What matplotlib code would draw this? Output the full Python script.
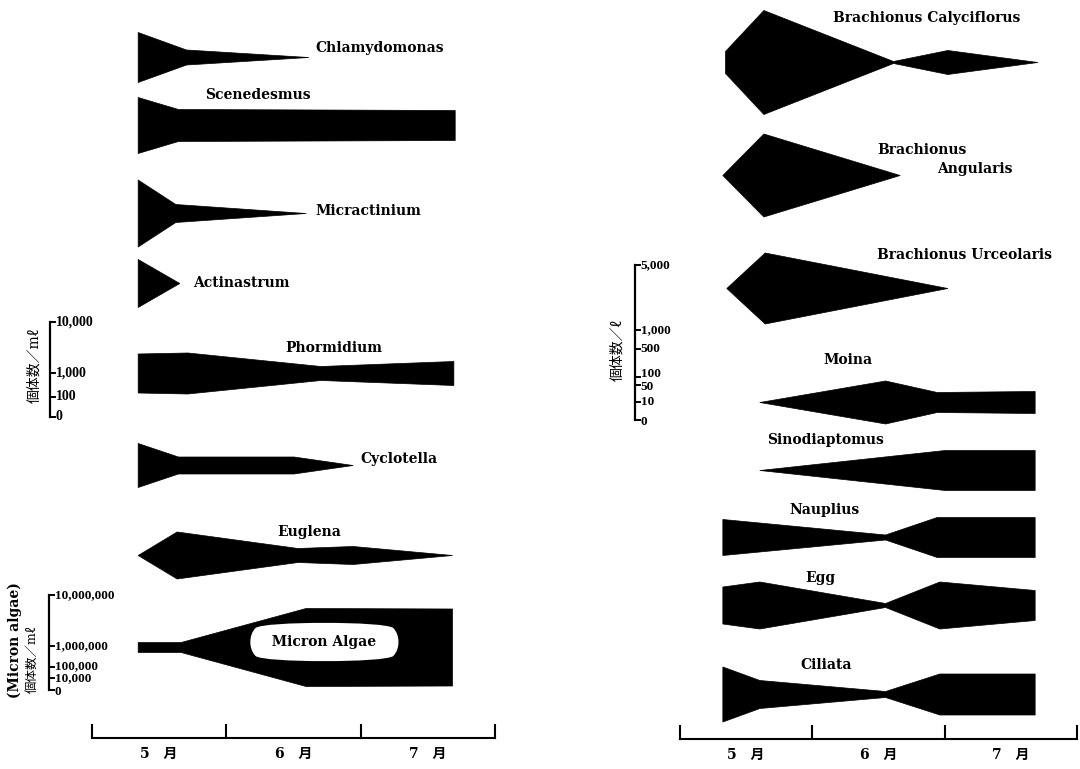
import numpy as np
import matplotlib.pyplot as plt

plt.rcParams['font.family'] = ['DejaVu Serif', 'Noto Sans CJK JP']

# sampling date (month as float) and kite width (scale units, 0 -> 10,000 = 95)
chlamy_t = [5.34, 5.70, 6.61]
chlamy_w = [50, 15, 0]
scene_t = [5.34, 5.64, 7.70]
scene_w = [56, 32, 30]
micract_t = [5.34, 5.62, 6.59]
micract_w = [67, 18, 0]
actin_t = [5.34, 5.65]
actin_w = [48, 0]
phorm_t = [5.34, 5.71, 6.70, 7.69]
phorm_w = [39, 41, 14, 24]
cyclo_t = [5.34, 5.64, 6.50, 6.94]
cyclo_w = [44, 17, 17, 0]
eugl_t = [5.34, 5.63, 6.53, 6.94, 7.68]
eugl_w = [0, 47, 14, 18, 0]
micron_t = [5.34, 5.66, 6.59, 7.68]
micron_w = [10, 10, 78, 77]

# right panel: zooplankton (scale 0 -> 5,000 = 155)
calyc_t = [5.34, 5.34, 5.63, 6.61, 7.02, 7.70]
calyc_w = [0, 22, 104, 2, 24, 0]
angul_t = [5.32, 5.63, 6.66]
angul_w = [0, 83, 0]
urceo_t = [5.35, 5.64, 7.02]
urceo_w = [0, 71, 0]
moina_t = [5.60, 6.55, 6.94, 7.68]
moina_w = [0, 43, 20, 22]
sino_t = [5.60, 7.00, 7.68]
sino_w = [0, 40, 40]
naup_t = [5.32, 6.55, 6.94, 7.68]
naup_w = [36, 5, 40, 40]
egg_t = [5.32, 5.60, 6.55, 6.96, 7.68]
egg_w = [37, 47, 4, 47, 30]
cilia_t = [5.32, 5.60, 6.55, 6.96, 7.68]
cilia_w = [55, 28, 6, 41, 41]

scale1_labels = ['0', '100', '1,000', '10,000']
scale1_w = [0, 20, 44, 95]
scale2_labels = ['0', '10,000', '100,000', '1,000,000', '10,000,000']
scale2_w = [0, 12, 23, 44, 95]
scale3_labels = ['0', '10', '50', '100', '500', '1,000', '5,000']
scale3_w = [0, 18, 35, 43, 71, 90, 155]

months = [5, 6, 7, 8]
month_labels = ['5　月', '6　月', '7　月']

fig = plt.figure(figsize=(10.8, 7.69), dpi=100)
axL = fig.add_axes([0, 0, 0.5, 1])
axR = fig.add_axes([0.5, 0, 0.5, 1])
axL.set_xlim(4.3151, 8.3350)
axR.set_xlim(3.942, 8.0227)
for ax in (axL, axR):
    ax.set_ylim(769, 0)
    ax.axis('off')


def kite(ax, t, w, yc):
    w = np.asarray(w, dtype=float)
    ax.fill_between(t, yc - w / 2, yc + w / 2, color='black', lw=0.5, ec='black')


def scale_bar(ax, x, ybot, widths, labels, tick, nudge=None, fs=10):
    if nudge is None:
        nudge = [0] * len(widths)
    ax.plot([x, x], [ybot, ybot - max(widths)], color='black', lw=1.6)
    for w, lab, dy in zip(widths, labels, nudge):
        ax.plot([x, x + tick], [ybot - w, ybot - w], color='black', lw=1.4)
        ax.text(x + tick * 1.1, ybot - w + dy, lab, fontsize=fs, ha='left', va='center',
                family='Liberation Serif', fontweight='bold')


def time_axis(ax, y):
    ax.plot([months[0], months[-1]], [y, y], color='black', lw=1.5)
    for m in months:
        ax.plot([m, m], [y, y - 13], color='black', lw=1.5)
    for m, lab in zip(months[:-1], month_labels):
        ax.text(m + 0.5, y + 16, lab, fontsize=10, ha='center', va='center',
                fontweight='bold')


lbl = dict(fontsize=10, fontweight='bold', va='center', ha='left')

# phytoplankton
kite(axL, chlamy_t, chlamy_w, 57)
axL.text(6.66, 48, 'Chlamydomonas', **lbl)
kite(axL, scene_t, scene_w, 125)
axL.text(5.84, 95, 'Scenedesmus', **lbl)
kite(axL, micract_t, micract_w, 213)
axL.text(6.66, 211, 'Micractinium', **lbl)
kite(axL, actin_t, actin_w, 283)
axL.text(5.75, 283, 'Actinastrum', **lbl)
kite(axL, phorm_t, phorm_w, 373)
axL.text(6.44, 348, 'Phormidium', **lbl)
kite(axL, cyclo_t, cyclo_w, 465)
axL.text(7.00, 459, 'Cyclotella', **lbl)
kite(axL, eugl_t, eugl_w, 555)
axL.text(6.38, 532, 'Euglena', **lbl)
kite(axL, micron_t, micron_w, 647)
axL.text(6.73, 642, '  Micron Algae  ', fontsize=10, fontweight='bold',
         ha='center', va='center',
         bbox=dict(boxstyle='round4,pad=1.0', fc='white', ec='none'))

scale_bar(axL, 4.687, 417, scale1_w, scale1_labels, 0.04)
axL.text(4.573, 365, '個体数／mℓ', rotation=90, fontsize=10, ha='center', va='center')
scale_bar(axL, 4.680, 690, scale2_w, scale2_labels, 0.04,
          nudge=[2, 0, -1, 0, 0], fs=9.5)
axL.text(4.425, 640, '(Micron algae)', rotation=90, fontsize=10, fontweight='bold',
         ha='center', va='center')
axL.text(4.559, 659, '個体数／mℓ', rotation=90, fontsize=9, ha='center', va='center')
time_axis(axL, 738)

# zooplankton
kite(axR, calyc_t, calyc_w, 62)
axR.text(6.156, 18, 'Brachionus Calyciflorus', **lbl)
kite(axR, angul_t, angul_w, 175)
axR.text(6.49, 150, 'Brachionus', **lbl)
axR.text(6.94, 169, 'Angularis', **lbl)
kite(axR, urceo_t, urceo_w, 288)
axR.text(6.49, 255, 'Brachionus Urceolaris', **lbl)
kite(axR, moina_t, moina_w, 402)
axR.text(6.08, 360, 'Moina', **lbl)
kite(axR, sino_t, sino_w, 470)
axR.text(5.66, 440, 'Sinodiaptomus', **lbl)
kite(axR, naup_t, naup_w, 537)
axR.text(5.83, 510, 'Nauplius', **lbl)
kite(axR, egg_t, egg_w, 605)
axR.text(5.95, 578, 'Egg', **lbl)
kite(axR, cilia_t, cilia_w, 694)
axR.text(5.91, 665, 'Ciliata', **lbl)

scale_bar(axR, 4.660, 420, scale3_w, scale3_labels, 0.04,
          nudge=[2, 0, 2, -3, 0, 0, 0], fs=9.5)
axR.text(4.524, 350, '個体数／ℓ', rotation=90, fontsize=10, ha='center', va='center')
time_axis(axR, 739)

fig.savefig('out.png', dpi=100, facecolor='white')
